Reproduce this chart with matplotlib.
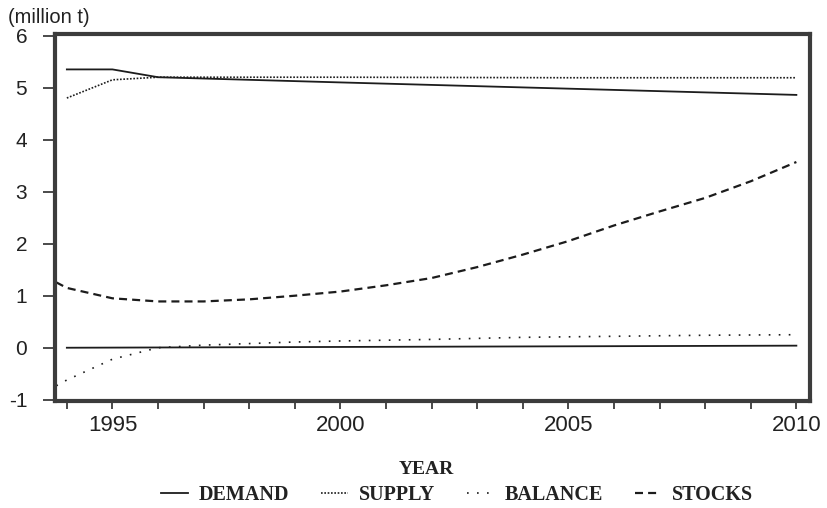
import numpy as np
import matplotlib
matplotlib.use("Agg")
from matplotlib import pyplot as plt

plt.rcParams['axes.unicode_minus'] = False

# values (million t)
demand_years = [1994, 1995, 1996, 2000, 2005, 2010]
demand = [5.35, 5.35, 5.20, 5.10, 4.98, 4.86]

supply_years = [1994, 1995, 1996, 2000, 2005, 2010]
supply = [4.80, 5.15, 5.20, 5.20, 5.19, 5.19]

balance_years = [1993, 1994, 1995, 1996, 1997, 1998, 1999, 2000, 2002, 2004, 2006, 2008, 2010]
balance = [-1.10, -0.62, -0.22, 0.00, 0.05, 0.08, 0.11, 0.13, 0.16, 0.20, 0.22, 0.24, 0.25]

stocks_years = [1993, 1994, 1995, 1996, 1997, 1998, 1999, 2000, 2001, 2002, 2003,
                2004, 2005, 2006, 2007, 2008, 2009, 2010]
stocks = [1.61, 1.15, 0.95, 0.89, 0.89, 0.93, 1.00, 1.08, 1.20, 1.34, 1.55,
          1.79, 2.05, 2.35, 2.62, 2.88, 3.20, 3.57]

zero_years = [1994, 2010]
zero_line = [0.0, 0.04]

y_ticks = [-1, 0, 1, 2, 3, 4, 5, 6]
x_ticks = list(range(1994, 2011))
x_labels = ['1995', '2000', '2005', '2010']

ink = '#1c1c1c'
frame = '#3c3c3c'

fig = plt.figure(figsize=(8.27, 5.08), dpi=100)
ax = fig.add_axes([0.0665, 0.21, 0.913, 0.723])

l_dem, = ax.plot(demand_years, demand, color=ink, lw=1.3, label='DEMAND')
l_sup, = ax.plot(supply_years, supply, color=ink, lw=1.2,
                 linestyle=(0, (1, 1)), label='SUPPLY')
l_bal, = ax.plot(balance_years, balance, color=ink, lw=1.2,
                 linestyle=(0, (1, 5)), label='BALANCE')
l_sto, = ax.plot(stocks_years, stocks, color=ink, lw=1.6,
                 linestyle=(0, (3.6, 2.3)), label='STOCKS')
ax.plot(zero_years, zero_line, color=ink, lw=1.3)

ax.set_xlim(1993.74, 2010.3)
ax.set_ylim(-1.03, 6.03)

ax.set_yticks(y_ticks)
ax.set_yticklabels([str(v) for v in y_ticks], fontsize=15, family='Liberation Sans')
ax.set_xticks(x_ticks)
ax.set_xticklabels([str(y) if str(y) in x_labels else '' for y in x_ticks],
                   fontsize=16, family='Liberation Sans')
ax.tick_params(axis='y', direction='out', length=9, width=1.3, pad=11, colors=frame,
               labelcolor='#222222')
ax.tick_params(axis='x', direction='out', length=6, width=1.3, pad=4, colors=frame,
               labelcolor='#222222')

for s in ax.spines.values():
    s.set_linewidth(3)
    s.set_color(frame)

fig.text(0.01, 0.966, '(million t)', fontsize=14.5, family='Liberation Sans',
         color='#222222', va='center')
fig.text(0.516, 0.075, 'YEAR', fontsize=14, family='Liberation Serif',
         weight='bold', color='#222222', ha='center', va='center')

fig.legend(handles=[l_dem, l_sup, l_bal, l_sto], loc='center',
           bbox_to_anchor=(0.553, 0.025), ncol=4, frameon=False,
           prop={'family': 'Liberation Serif', 'weight': 'bold', 'size': 14.5},
           handlelength=1.3, handletextpad=0.55, columnspacing=1.6,
           labelcolor='#222222')

fig.savefig('out.png', dpi=100)
